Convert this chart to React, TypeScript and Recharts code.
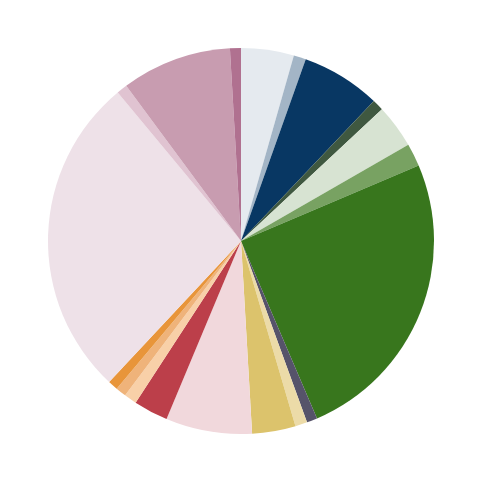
import { PieChart, Pie, Cell } from "recharts"

// slice sizes (degrees of arc, clockwise from 12 o'clock)
const categories = [
  "S1", "S2", "S3", "S4", "S5", "S6", "S7", "S8", "S9", "S10",
  "S11", "S12", "S13", "S14", "S15", "S16", "S17", "S18", "S19",
]
const values = [
  15.9, 3.7, 23.9, 3.4, 13.2, 6.9, 89.8, 3.2, 3.6, 13.1,
  26.0, 10.4, 3.8, 3.2, 3.0, 97.2, 3.2, 33.2, 3.3,
]
const colors = [
  "#e5eaef", "#a3b5c6", "#083763", "#3f5840", "#d7e3d2", "#78a262", "#38761d",
  "#56536a", "#ecdba8", "#dcc36c", "#f1d8dc", "#bc3f4a", "#f8d0a8", "#efb37a",
  "#e8953a", "#eee1e8", "#e0c3d1", "#c89cb0", "#b07190",
]

const data = categories.map((name, i) => ({ name, value: values[i] }))

export default function App() {
  return (
    <div style={{ position: "fixed", left: 0, top: 0, width: 483, height: 483, background: "#fff" }}>
      <PieChart width={483} height={483} margin={{ top: 0, right: 0, bottom: 0, left: 0 }}>
        <Pie
          data={data}
          dataKey="value"
          nameKey="name"
          cx={241}
          cy={241}
          outerRadius={193}
          startAngle={90}
          endAngle={-270}
          stroke="none"
          isAnimationActive={false}
        >
          {data.map((d, i) => (
            <Cell key={d.name} fill={colors[i]} />
          ))}
        </Pie>
      </PieChart>
    </div>
  )
}
